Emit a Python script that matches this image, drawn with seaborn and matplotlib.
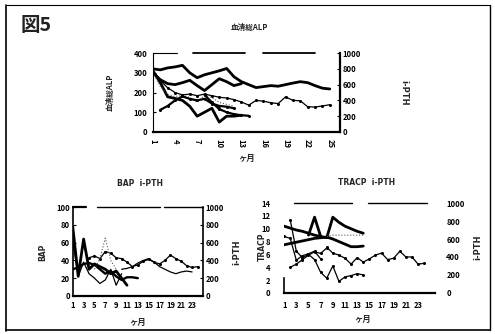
import numpy as np
import pandas as pd
import matplotlib
matplotlib.use("Agg")
import matplotlib.pyplot as plt
from matplotlib.lines import Line2D
import seaborn as sns

sns.set_theme(style="white")
plt.rcParams['font.family'] = ['Noto Sans CJK JP', 'DejaVu Sans']
plt.rcParams['font.weight'] = 'bold'

# ---------------- data ----------------
# Top chart: 血清総ALP (left 0-400) and i-PTH (right 0-1000)
top_m_long = list(range(1, 26))
top_alp_1 = [320, 315, 325, 330, 338, 300, 275, 290, 300, 310, 322, 280, 255,
             240, 225, 230, 235, 232, 240, 248, 255, 250, 235, 222, 218]
top_m_13 = list(range(1, 14))
top_alp_2 = [300, 265, 245, 240, 250, 262, 235, 210, 240, 270, 255, 235, 245]
top_alp_3 = [310, 250, 178, 170, 160, 130, 80, 100, 120, 50, 80, 80, 85]
top_m_12 = list(range(1, 13))
top_alp_4 = [300, 230, 190, 180, 185, 175, 150, 185, 175, 150, 140, 130]
top_pth_1 = [760, 650, 560, 500, 470, 480, 460, 480, 460, 440, 430, 410, 380,
             340, 400, 390, 370, 360, 445, 400, 395, 320, 315, 330, 345]
top_m_pth2 = list(range(2, 13))
top_pth_2 = [280, 330, 400, 450, 420, 400, 420, 360, 330, 320, 300]
top_m_pth3 = list(range(8, 15))
top_pth_3 = [470, 375, 290, 250, 225, 212, 205]
top_bars = [(1, 4.2, 0.8), (6.4, 13.5, 1.3), (15.9, 23, 1.3)]

# Bottom-left: BAP (left 0-100) and i-PTH (right 0-1000)
bl_m_11 = list(range(1, 12))
bl_bap_1 = [78, 22, 64, 30, 36, 33, 30, 25, 28, 20, 12]
bl_m_13 = list(range(1, 14))
bl_bap_2 = [30, 32, 36, 37, 35, 30, 25, 28, 22, 18, 21, 21, 20]
bl_m_10 = list(range(1, 11))
bl_bap_3 = [62, 22, 38, 25, 20, 14, 18, 30, 12, 25]
bl_m_pth1 = list(range(4, 25))
bl_pth_1 = [430, 450, 420, 500, 480, 430, 420, 380, 330, 350, 390, 410, 380,
            360, 400, 460, 420, 390, 340, 320, 330]
bl_m_pth2 = list(range(5, 10))
bl_pth_2 = [300, 420, 650, 400, 300]
bl_m_pth3 = list(range(10, 24))
bl_pth_3 = [300, 310, 330, 370, 400, 420, 380, 330, 300, 270, 250, 270, 280, 270]
bl_bars = [(1, 3.4, 1.6), (5.4, 17, 1.0), (17.9, 25, 1.0)]

# Bottom-right: TRACP (left 0-14) and i-PTH (right 0-1000)
br_m_14 = list(range(1, 15))
br_tr_1 = [10.4, 10.1, 9.8, 9.6, 9.3, 9.0, 8.8, 8.6, 11.8, 11.0, 10.4, 10.0, 9.6, 9.3]
br_tr_2 = [7.5, 7.7, 7.9, 8.1, 8.3, 8.5, 8.6, 8.7, 8.4, 8.0, 7.6, 7.2, 7.2, 7.3]
br_m_tr3 = [5, 6, 7]
br_tr_3 = [9.0, 11.8, 8.8]
br_m_tr4 = list(range(8, 15))
br_tr_4 = [8.8, 9.0, 9.0, 9.0, 9.0, 9.0, 9.0]
br_m_tr5 = list(range(2, 15))
br_tr_5 = [11.4, 6.5, 5.5, 6.0, 5.2, 3.2, 2.3, 4.2, 1.8, 2.5, 2.7, 3.0, 2.8]
br_m_tr6 = list(range(1, 8))
br_tr_6 = [8.8, 8.5, 5.1, 5.8, 6.1, 6.5, 5.3]
br_m_pth1 = list(range(8, 25))
br_pth_1 = [507, 443, 421, 386, 321, 393, 343, 379, 421, 443, 371, 386, 464,
            400, 400, 321, 329]
br_m_pth2 = list(range(2, 9))
br_pth_2 = [286, 320, 370, 420, 457, 440, 500]
br_bars = [(2.6, 12.1, 1.0), (14.8, 24.4, 1.0)]

# ---------------- figure ----------------
fig = plt.figure(figsize=(4.95, 3.34), dpi=100)
fig.patch.set_facecolor('white')

TICKFS = 5.5
thick = dict(color='black', linewidth=2.0)
thin = dict(color='black', linewidth=0.9)
dotm = dict(color='black', linewidth=0.9, marker='o', markersize=2.2,
            markeredgewidth=0)
dotted = dict(color='#555555', linewidth=0.8, linestyle=':')


def line(ax, x, y, style):
    sns.lineplot(x=x, y=y, ax=ax, legend=False, **style)


def style_axes(ax, ax2, xmax, ymax_l, ymax_r, lticks, rticks):
    ax.set_xlim(1, xmax)
    ax.set_ylim(0, ymax_l)
    ax2.set_ylim(0, ymax_r)
    ax.set_yticks(lticks)
    ax2.set_yticks(rticks)
    for a in (ax, ax2):
        a.set_facecolor('none')
        for s in a.spines.values():
            s.set_visible(False)
        a.tick_params(labelsize=TICKFS, length=2.5, width=0.8, direction='in',
                      colors='black', pad=2)
        for lab in a.get_yticklabels():
            lab.set_fontweight('bold')
        a.set_xlabel('')
        a.set_ylabel('')
    ax.spines['bottom'].set_visible(True)
    ax.spines['bottom'].set_linewidth(1.6)
    ax.spines['bottom'].set_color('black')
    ax.xaxis.set_minor_locator(matplotlib.ticker.MultipleLocator(1))
    ax.tick_params(axis='x', which='both', direction='in', length=2.5,
                   width=1.0, colors='black')
    ax.tick_params(axis='y', which='both', left=True, right=False)
    ax2.tick_params(axis='y', which='both', left=False, right=True)
    ax.grid(False)
    ax2.grid(False)


def bars(ax, segs, y):
    for x0, x1, lw in segs:
        ax.plot([x0, x1], [y, y], color='black', lw=lw, clip_on=False)


# ---- Top ----
axT = fig.add_axes([0.309, 0.605, 0.378, 0.236])
axT2 = axT.twinx()
line(axT, top_m_long, top_alp_1, thick)
line(axT, top_m_13, top_alp_2, thick)
line(axT, top_m_13, top_alp_3, thick)
line(axT, top_m_12, top_alp_4, dotted)
line(axT2, top_m_long, top_pth_1, dotm)
line(axT2, top_m_pth2, top_pth_2, dict(dotm, linewidth=1.6))
line(axT2, top_m_pth3, top_pth_3, dict(dotm, linewidth=1.6))
style_axes(axT, axT2, 26.4, 400, 1000, [0, 100, 200, 300, 400],
           [0, 200, 400, 600, 800, 1000])
axT.set_xticks([1, 4, 7, 10, 13, 16, 19, 22, 25])
axT.set_xticklabels(['1', '4', '7', '10', '13', '16', '19', '22', '25'],
                    rotation=270, fontsize=TICKFS, fontweight='bold')
axT.tick_params(axis='x', pad=5)
axT.tick_params(axis='y', pad=4)
axT.spines['left'].set_visible(True)
axT.spines['left'].set_linewidth(0.8)
axT.spines['left'].set_color('black')
axT2.spines['right'].set_visible(True)
axT2.spines['right'].set_linewidth(1.6)
axT2.spines['right'].set_color('black')
bars(axT, top_bars, 400)

# ---- Bottom-left ----
axL = fig.add_axes([0.147, 0.114, 0.263, 0.266])
axL2 = axL.twinx()
line(axL, bl_m_11, bl_bap_1, thick)
line(axL, bl_m_13, bl_bap_2, dict(thick, linewidth=1.7))
line(axL, bl_m_10, bl_bap_3, thin)
line(axL2, bl_m_pth1, bl_pth_1, dotm)
line(axL2, bl_m_pth2, bl_pth_2, dotted)
line(axL2, bl_m_pth3, bl_pth_3, thin)
style_axes(axL, axL2, 25, 100, 1000, [0, 20, 40, 60, 80, 100],
           [0, 200, 400, 600, 800, 1000])
axL.set_xticks(list(range(1, 24, 2)))
axL.set_xticklabels([str(v) for v in range(1, 24, 2)], fontsize=TICKFS,
                    fontweight='bold')
axL.tick_params(axis='x', pad=4)
axL.spines['left'].set_visible(True)
axL.spines['left'].set_linewidth(1.2)
axL.spines['left'].set_color('black')
axL2.spines['right'].set_visible(True)
axL2.spines['right'].set_linewidth(1.2)
axL2.spines['right'].set_color('black')
bars(axL, bl_bars, 100)

# ---- Bottom-right ----
axR = fig.add_axes([0.574, 0.123, 0.305, 0.269])
axR2 = axR.twinx()
line(axR, br_m_14, br_tr_1, thick)
line(axR, br_m_14, br_tr_2, thick)
line(axR, br_m_tr3, br_tr_3, thick)
line(axR, br_m_tr4, br_tr_4, dotted)
line(axR, br_m_tr5, br_tr_5, dotm)
line(axR, br_m_tr6, br_tr_6, dotm)
line(axR2, br_m_pth1, br_pth_1, dotm)
line(axR2, br_m_pth2, br_pth_2, dotm)
style_axes(axR, axR2, 25.8, 14, 1000, list(range(0, 15, 2)),
           [0, 200, 400, 600, 800, 1000])
axR.set_xticks(list(range(1, 24, 2)))
axR.set_xticklabels([str(v) for v in range(1, 24, 2)], fontsize=TICKFS,
                    fontweight='bold')
axR.tick_params(axis='x', pad=6)
axR.spines['left'].set_visible(True)
axR.spines['left'].set_bounds(0, 2.3)
axR.spines['left'].set_linewidth(1.2)
axR.spines['left'].set_color('black')
axR.tick_params(axis='y', length=0, pad=10)
axR2.tick_params(axis='y', length=0, pad=8)
bars(axR, br_bars, 14)

# ---- texts ----
fig.text(0.042, 0.925, '図5', fontsize=14, fontweight='bold',
         va='center', ha='left', color='#222222')
fig.text(0.505, 0.918, '血清総ALP', fontsize=5.5, fontweight='bold',
         ha='center', va='center')
fig.text(0.222, 0.723, '血清総ALP', fontsize=5.5, fontweight='bold',
         rotation=90, ha='center', va='center')
fig.text(0.815, 0.723, 'i-PTH', fontsize=6, fontweight='bold',
         rotation=270, ha='center', va='center', family='DejaVu Sans')
fig.text(0.499, 0.527, 'ヶ月', fontsize=6, fontweight='bold',
         ha='center', va='center')

fig.text(0.283, 0.452, 'BAP  i-PTH', fontsize=5.5, fontweight='bold',
         ha='center', va='center', family='DejaVu Sans')
fig.text(0.087, 0.245, 'BAP', fontsize=5.5, fontweight='bold',
         rotation=90, ha='center', va='center', family='DejaVu Sans')
fig.text(0.478, 0.245, 'i-PTH', fontsize=6, fontweight='bold',
         rotation=90, ha='center', va='center', family='DejaVu Sans')
fig.text(0.277, 0.035, 'ヶ月', fontsize=6, fontweight='bold',
         ha='center', va='center')

fig.text(0.741, 0.455, 'TRACP  i-PTH', fontsize=5.5, fontweight='bold',
         ha='center', va='center', family='DejaVu Sans')
fig.text(0.53, 0.26, 'TRACP', fontsize=5.5, fontweight='bold',
         rotation=90, ha='center', va='center', family='DejaVu Sans')
fig.text(0.965, 0.26, 'i-PTH', fontsize=6, fontweight='bold',
         rotation=90, ha='center', va='center', family='DejaVu Sans')
fig.text(0.733, 0.045, 'ヶ月', fontsize=6, fontweight='bold',
         ha='center', va='center')

# outer frame
fig.add_artist(Line2D([0.012, 0.012], [0.01, 0.985], color='black', lw=1.2,
                      transform=fig.transFigure))
fig.add_artist(Line2D([0.012, 0.99], [0.012, 0.012], color='black', lw=1.2,
                      transform=fig.transFigure))
fig.add_artist(Line2D([0.99, 0.99], [0.012, 0.985], color='black', lw=1.0,
                      transform=fig.transFigure))
fig.add_artist(Line2D([0.012, 0.99], [0.985, 0.985], color='black', lw=0.8,
                      transform=fig.transFigure))

fig.savefig('out.png', dpi=100, facecolor='white')
